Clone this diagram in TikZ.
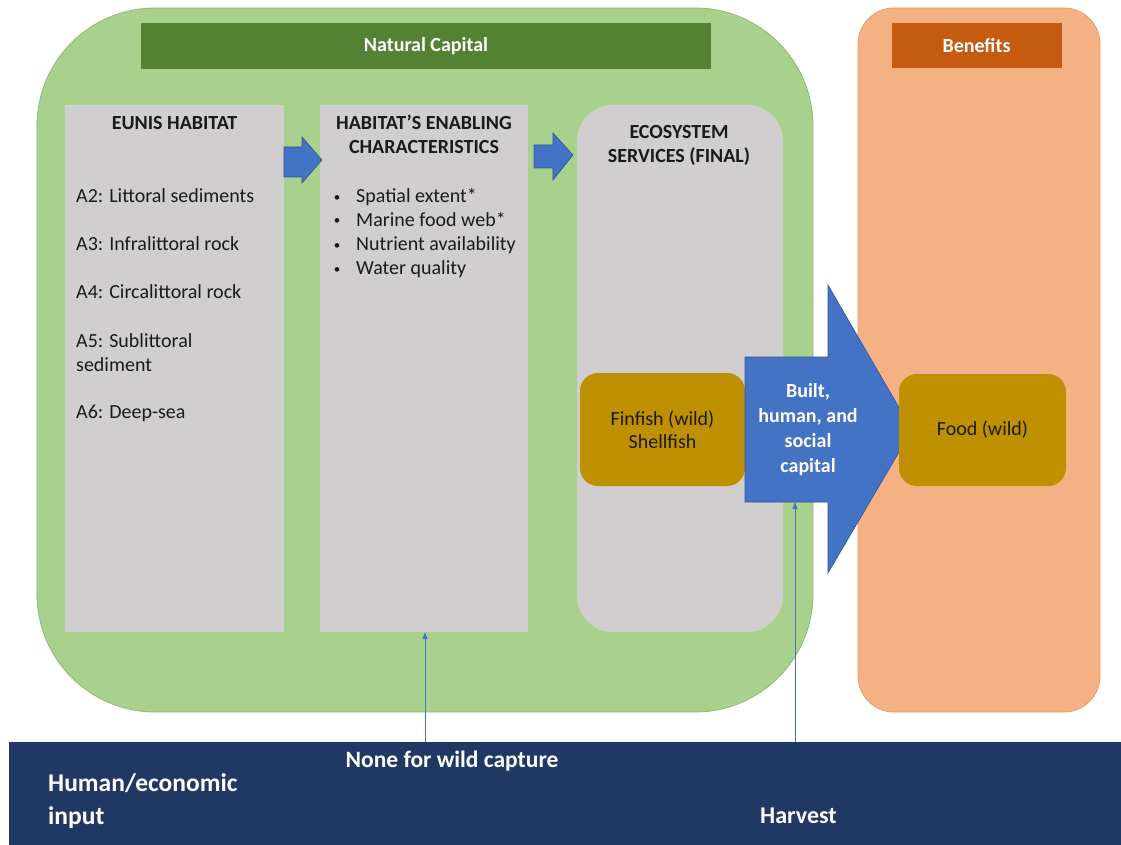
\documentclass[tikz,border=0pt]{standalone}
\usepackage{fontspec}
\setmainfont{Carlito}
\usetikzlibrary{arrows.meta}
\definecolor{natgreen}{HTML}{A9D18E}
\definecolor{natedge}{HTML}{8DBB6E}
\definecolor{bargreen}{HTML}{548235}
\definecolor{boxgray}{HTML}{D0CECE}
\definecolor{benorange}{HTML}{F4B183}
\definecolor{benedge}{HTML}{EE9B63}
\definecolor{barorange}{HTML}{C55A11}
\definecolor{gold}{HTML}{BF9000}
\definecolor{blockblue}{HTML}{4472C4}
\definecolor{blueedge}{HTML}{2F5597}
\definecolor{navy}{HTML}{203864}
\definecolor{ink}{HTML}{1A1A1A}
\begin{document}
\begin{tikzpicture}[x=1pt,y=-1pt,
  txt/.style={font=\fontsize{20}{24}\selectfont, text=ink, inner sep=0pt},
  head/.style={font=\fontsize{20}{24}\selectfont\bfseries, text=ink, inner sep=0pt, align=center},
  wtxt/.style={font=\fontsize{20}{24}\selectfont\bfseries, text=white, inner sep=0pt, align=center},
  btxt/.style={font=\fontsize{24.5}{33}\selectfont\bfseries, text=white, inner sep=0pt},
  grayrect/.style={fill=boxgray, draw=none},
  blockarrow/.style={fill=blockblue, draw=blueedge, line width=0.6pt},
  thinarrow/.style={draw=blockblue, line width=0.8pt, -{Triangle[length=7pt,width=5pt]}},
]
\useasboundingbox (0,0) rectangle (1121,845);
\fill[white] (0,0) rectangle (1121,845);

% Natural capital container
\draw[fill=natgreen, draw=natedge, line width=0.8pt, rounded corners=118pt] (37,8) rectangle (813,712);
\node[fill=bargreen, minimum width=570pt, minimum height=46pt, inner sep=0pt] (natbar) at (426,46) {};
\node[wtxt] at (natbar.center) {Natural Capital};

% Benefits container
\draw[fill=benorange, draw=benedge, line width=0.8pt, rounded corners=36pt] (858,8) rectangle (1100,712);
\node[fill=barorange, minimum width=170pt, minimum height=45pt, inner sep=0pt] (benbar) at (976.5,45.5) {};
\node[wtxt] at (benbar.center) {Benefits};

% Gray boxes
\node[grayrect, minimum width=219pt, minimum height=527pt, inner sep=0pt] (eunis) at (174.5,368.5) {};
\node[grayrect, minimum width=208pt, minimum height=527pt, inner sep=0pt] (enab) at (424,368.5) {};
\fill[boxgray, rounded corners=36pt] (577,105) rectangle (783,632);
\node[minimum width=206pt, minimum height=527pt, inner sep=0pt] (ess) at (680,368.5) {};

% EUNIS texts
\node[head] at (174.5,123) {EUNIS HABITAT};
\node[txt, anchor=base west] at (76,202) {A2: Littoral sediments};
\node[txt, anchor=base west] at (76,250) {A3: Infralittoral rock};
\node[txt, anchor=base west] at (76,298) {A4: Circalittoral rock};
\node[txt, anchor=base west] at (76,347) {A5: Sublittoral};
\node[txt, anchor=base west] at (76,371) {sediment};
\node[txt, anchor=base west] at (76,418) {A6: Deep-sea};

% Enabling characteristics
\node[head] at (424,134) {HABITAT’S ENABLING\\CHARACTERISTICS};
\foreach \yy/\tt in {202/Spatial extent*, 226/Marine food web*, 250/Nutrient availability, 274/Water quality}{
  \node[txt, anchor=base, font=\fontsize{13}{24}\selectfont] at (337,\yy-1) {•};
  \node[txt, anchor=base west] at (356,\yy) {\tt};
}

% Ecosystem services
\node[head] at (679,145) {ECOSYSTEM\\SERVICES (FINAL)};

% small block arrows
\draw[blockarrow] (284,147) -- (302,147) -- (302,137) -- (322,160) -- (302,183) -- (302,177) -- (284,177) -- cycle;
\draw[blockarrow] (534,145) -- (553,145) -- (553,133) -- (573,155) -- (553,180) -- (553,168) -- (534,168) -- cycle;

% Finfish box
\node[fill=gold, rounded corners=18pt, minimum width=165pt, minimum height=113pt, inner sep=0pt] (fin) at (662.5,429.5) {};
\node[txt, align=center, font=\fontsize{20}{23}\selectfont] at (fin.center) {Finfish (wild)\\Shellfish};

% Big block arrow
\draw[blockarrow] (745,357) -- (828,357) -- (828,285) -- (912,430) -- (828,573) -- (828,502) -- (745,502) -- cycle;
\coordinate (shaftbot) at (795,502);
\node[wtxt, font=\fontsize{20}{25}\selectfont\bfseries] at (808,430) {Built,\\human, and\\social\\capital};

% Food box
\node[fill=gold, rounded corners=18pt, minimum width=167pt, minimum height=112pt, inner sep=0pt] (food) at (982.5,430) {};
\node[txt, font=\fontsize{20}{23}\selectfont] at (food.center) {Food (wild)};

% Human/economic input band
\node[fill=navy, minimum width=1112pt, minimum height=103pt, inner sep=0pt, anchor=north west] (band) at (9,742) {};
\node[btxt, font=\fontsize{25.5}{33}\selectfont\bfseries, anchor=base west] at (48,791) {Human/economic};
\node[btxt, font=\fontsize{25.5}{33}\selectfont\bfseries, anchor=base west] at (48,824) {input};
\node[btxt, font=\fontsize{23.5}{33}\selectfont\bfseries, anchor=base] at (452,767) {None for wild capture};
\node[btxt, font=\fontsize{24}{33}\selectfont\bfseries, anchor=base west] at (760,823) {Harvest};

\coordinate (in1) at (425,742);
\coordinate (in2) at (795,742);
\draw[thinarrow] (in1) -- (enab.south -| in1);
\draw[thinarrow] (in2) -- (shaftbot);
\end{tikzpicture}
\end{document}
